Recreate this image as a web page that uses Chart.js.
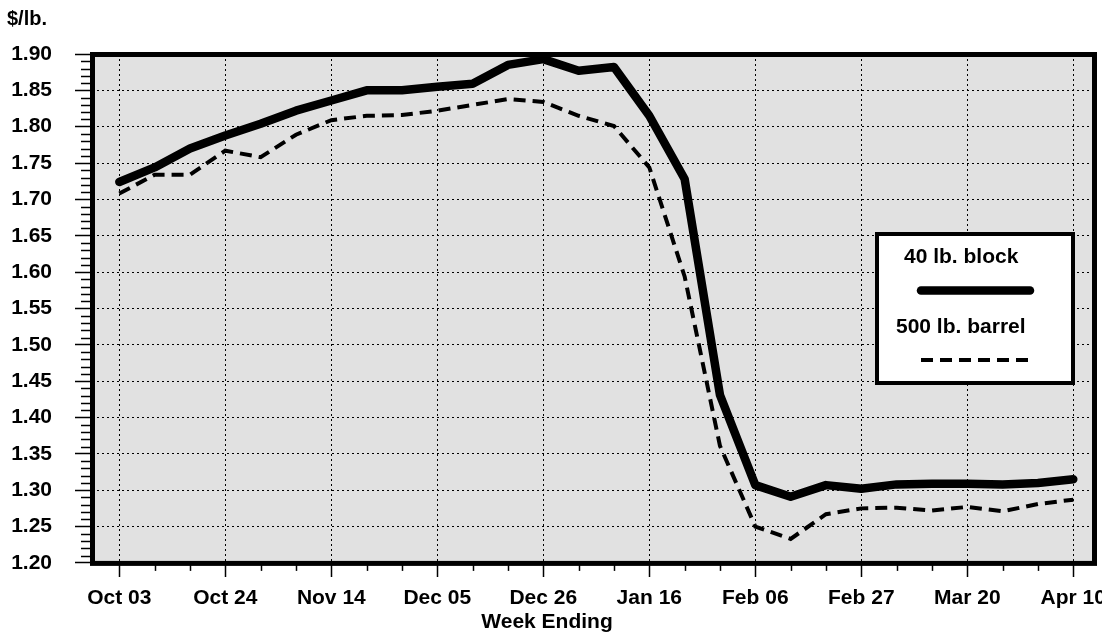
<!DOCTYPE html>
<html>
<head>
<meta charset="utf-8">
<script src="https://cdn.jsdelivr.net/npm/chart.js@4"></script>
<style>
  html, body { margin: 0; padding: 0; background: #ffffff; }
  #c { display: block; }
</style>
</head>
<body>
<canvas id="c" width="1102" height="634"></canvas>
<script>
// ---- Data ----
const weekLabels = ['Oct 03','Oct 10','Oct 17','Oct 24','Oct 31','Nov 07','Nov 14','Nov 21','Nov 28',
  'Dec 05','Dec 12','Dec 19','Dec 26','Jan 02','Jan 09','Jan 16','Jan 23','Jan 30','Feb 06','Feb 13',
  'Feb 20','Feb 27','Mar 06','Mar 13','Mar 20','Mar 27','Apr 03','Apr 10'];
const tickLabels = ['Oct 03','Oct 24','Nov 14','Dec 05','Dec 26','Jan 16','Feb 06','Feb 27','Mar 20','Apr 10'];
const blockValues = [1.724,1.744,1.770,1.788,1.804,1.822,1.836,1.850,1.850,1.855,1.859,1.885,1.893,1.877,
  1.882,1.815,1.728,1.431,1.307,1.291,1.307,1.302,1.308,1.309,1.309,1.308,1.310,1.315];
const barrelValues = [1.708,1.734,1.734,1.767,1.758,1.789,1.809,1.815,1.816,1.822,1.830,1.838,1.834,1.815,
  1.801,1.744,1.594,1.361,1.250,1.233,1.267,1.275,1.276,1.272,1.277,1.271,1.281,1.287];
const seriesNames = ['40 lb. block', '500 lb. barrel'];
const yTickValues = [1.20,1.25,1.30,1.35,1.40,1.45,1.50,1.55,1.60,1.65,1.70,1.75,1.80,1.85,1.90];

const FONT = '"Liberation Sans", Arial, Helvetica, sans-serif';

const toPoints = vals => vals.map((v, i) => ({ x: i, y: v }));

const decorPlugin = {
  id: 'decor',
  beforeDraw(chart) {
    const { ctx, chartArea: a } = chart;
    ctx.save();
    ctx.fillStyle = '#ffffff';
    ctx.fillRect(0, 0, chart.width, chart.height);
    ctx.fillStyle = '#e1e1e1';
    ctx.fillRect(a.left, a.top, a.right - a.left, a.bottom - a.top);
    ctx.restore();
  },
  beforeDatasetsDraw(chart) {
    const { ctx, chartArea: a, scales } = chart;
    ctx.save();
    ctx.strokeStyle = '#000';
    ctx.lineWidth = 1.5;
    // minor y ticks every 0.01
    const ys = scales.y;
    for (let k = 120; k <= 190; k++) {
      if (k % 5 === 0) continue;
      const py = Math.round(ys.getPixelForValue(k / 100)) + 0.5;
      ctx.beginPath();
      ctx.moveTo(a.left - 11, py);
      ctx.lineTo(a.left, py);
      ctx.stroke();
    }
    // minor x ticks every week
    const xs = scales.x;
    for (let i = 0; i < weekLabels.length; i++) {
      if (i % 3 === 0) continue;
      const px = Math.round(xs.getPixelForValue(i)) + 0.5;
      ctx.beginPath();
      ctx.moveTo(px, a.bottom);
      ctx.lineTo(px, a.bottom + 8);
      ctx.stroke();
    }
    // frame
    ctx.lineWidth = 5;
    ctx.strokeStyle = '#000';
    ctx.strokeRect(a.left + 0.5, a.top + 0.5, a.right - a.left, a.bottom - a.top);
    // unit label
    ctx.fillStyle = '#000';
    ctx.font = 'bold 20px ' + FONT;
    ctx.textBaseline = 'alphabetic';
    ctx.textAlign = 'left';
    ctx.fillText('$/lb.', 7, 25);
    ctx.restore();
  },
  afterDatasetsDraw(chart) {
    const { ctx, chartArea: a } = chart;
    const ds = chart.data.datasets;
    const bx = a.right - 217, by = a.top + 180, bw = 196, bh = 149;
    ctx.save();
    ctx.fillStyle = '#ffffff';
    ctx.fillRect(bx, by, bw, bh);
    ctx.strokeStyle = '#000';
    ctx.lineWidth = 4;
    ctx.strokeRect(bx, by, bw, bh);
    ctx.fillStyle = '#000';
    ctx.font = 'bold 21px ' + FONT;
    ctx.textAlign = 'left';
    ctx.textBaseline = 'alphabetic';
    ctx.fillText(ds[0].label, bx + 27, by + 29);
    ctx.fillText(ds[1].label, bx + 19, by + 99);
    // sample lines
    ctx.lineCap = 'round';
    ctx.lineWidth = ds[0].borderWidth;
    ctx.beginPath();
    ctx.moveTo(bx + 44, by + 56.5);
    ctx.lineTo(bx + 153, by + 56.5);
    ctx.stroke();
    ctx.lineCap = 'butt';
    ctx.lineWidth = ds[1].borderWidth;
    ctx.setLineDash(ds[1].borderDash);
    ctx.beginPath();
    ctx.moveTo(bx + 44, by + 126);
    ctx.lineTo(bx + 153, by + 126);
    ctx.stroke();
    ctx.restore();
  }
};

new Chart(document.getElementById('c'), {
  type: 'line',
  data: {
    datasets: [
      {
        label: seriesNames[0],
        data: toPoints(blockValues),
        borderColor: '#000',
        borderWidth: 8.5,
        borderCapStyle: 'round',
        borderJoinStyle: 'round',
        pointRadius: 0,
        tension: 0,
        fill: false
      },
      {
        label: seriesNames[1],
        data: toPoints(barrelValues),
        borderColor: '#000',
        borderWidth: 4,
        borderDash: [12, 7],
        borderCapStyle: 'butt',
        borderJoinStyle: 'miter',
        pointRadius: 0,
        tension: 0,
        fill: false
      }
    ]
  },
  options: {
    responsive: false,
    animation: false,
    devicePixelRatio: 1,
    layout: { padding: { top: 54, right: 8, left: 0, bottom: 0 } },
    plugins: {
      legend: { display: false },
      tooltip: { enabled: false },
      title: {
        display: true,
        position: 'bottom',
        text: 'Week Ending',
        color: '#000',
        font: { family: FONT, size: 21, weight: 'bold', lineHeight: 1.1 },
        padding: { top: 0, bottom: 0 }
      }
    },
    scales: {
      x: {
        type: 'linear',
        min: -0.773,
        max: 27.586,
        afterBuildTicks(scale) {
          scale.ticks = weekLabels.map((w, i) => i).filter(i => i % 3 === 0).map(v => ({ value: v }));
        },
        afterFit(scale) {
          scale.height = 48;
          scale.paddingLeft = 0;
          scale.paddingRight = 0;
        },
        ticks: {
          autoSkip: false,
          maxRotation: 0,
          padding: 9,
          color: '#000',
          font: { family: FONT, size: 21, weight: 'bold' },
          callback: v => tickLabels[Math.round(v / 3)]
        },
        grid: {
          color: '#000',
          lineWidth: 1,
          drawTicks: true,
          tickLength: 14,
          tickColor: '#000',
          tickWidth: 1.5,
          tickBorderDash: [1, 0]
        },
        border: { display: false, dash: [2, 3] }
      },
      y: {
        type: 'linear',
        min: 1.2,
        max: 1.9,
        afterBuildTicks(scale) {
          scale.ticks = yTickValues.map(v => ({ value: v }));
        },
        afterFit(scale) {
          scale.width = 92;
          scale.paddingTop = 0;
          scale.paddingBottom = 0;
        },
        ticks: {
          padding: 23,
          color: '#000',
          font: { family: FONT, size: 21, weight: 'bold' },
          callback: v => Number(v).toFixed(2)
        },
        grid: {
          color: '#000',
          lineWidth: 1,
          drawTicks: true,
          tickLength: 17,
          tickColor: '#000',
          tickWidth: 1.5,
          tickBorderDash: [1, 0]
        },
        border: { display: false, dash: [2, 3] }
      }
    }
  },
  plugins: [decorPlugin]
});
</script>
</body>
</html>
